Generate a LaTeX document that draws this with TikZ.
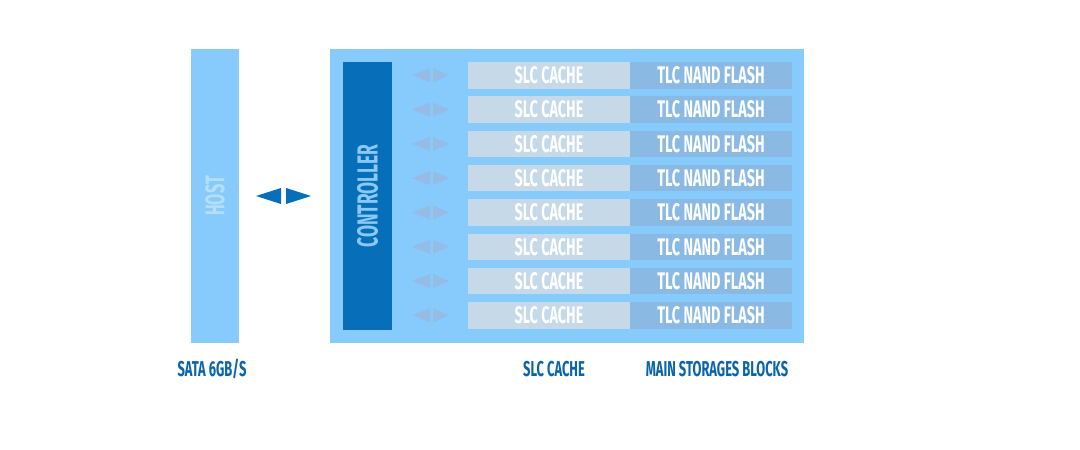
\documentclass[tikz,border=0pt]{standalone}
\usepackage{fontspec}
\newfontfamily\diagfont{Fira Sans}[FakeStretch=0.6]
\definecolor{boxblue}{RGB}{135,202,252}
\definecolor{ctrlblue}{RGB}{7,111,186}
\definecolor{ctrltext}{RGB}{140,200,245}
\definecolor{hosttext}{RGB}{182,222,250}
\definecolor{slcfill}{RGB}{197,217,232}
\definecolor{tlcfill}{RGB}{138,186,228}
\definecolor{smallarrow}{RGB}{148,188,228}
\definecolor{labelblue}{RGB}{10,100,170}
\tikzset{
    cell/.style={inner sep=0pt, minimum width=162pt, minimum height=26.5pt,
        text=white, font=\diagfont\bfseries\fontsize{24}{24}\selectfont},
    slc/.style={cell, fill=slcfill},
    tlc/.style={cell, fill=tlcfill},
    caption/.style={text=labelblue, inner sep=0pt, font=\diagfont\bfseries\fontsize{21.5}{21.5}\selectfont},
}
\begin{document}
\begin{tikzpicture}[x=1pt, y=-1pt]
    \useasboundingbox (0,0) rectangle (1080,450);

    % 主機與外框
    \node[fill=boxblue, inner sep=0pt, minimum width=48pt, minimum height=294pt] (host) at (215,196) {};
    \node[rotate=90, text=hosttext, font=\diagfont\bfseries\fontsize{27}{27}\selectfont] at (host) {HOST};
    \node[fill=boxblue, inner sep=0pt, minimum width=474pt, minimum height=294pt] (ssd) at (567,196) {};

    % 控制器
    \node[fill=ctrlblue, inner sep=0pt, minimum width=49pt, minimum height=268pt] (ctrl) at (367.5,196) {};
    \node[rotate=90, text=ctrltext, font=\diagfont\bfseries\fontsize{29}{29}\selectfont] at (ctrl) {CONTROLLER};

    % 主機與控制器之間的箭頭
    \fill[ctrlblue] (256,196) -- (281,188) -- (281,204) -- cycle;
    \fill[ctrlblue] (286,188) -- (286,204) -- (311,196) -- cycle;

    % 快取與快閃記憶體
    \foreach \i in {0,...,7} {
        \pgfmathsetmacro{\yc}{75.25+34.3*\i}
        \node[slc] (slc\i) at (549,\yc) {SLC CACHE};
        \node[tlc] (tlc\i) at (711,\yc) {TLC NAND FLASH};
        \fill[smallarrow] (412,\yc) -- (430,\yc-7) -- (430,\yc+7) -- cycle;
        \fill[smallarrow] (433,\yc-7) -- (433,\yc+7) -- (449,\yc) -- cycle;
    }

    % 下方標籤
    \node[caption] (sata) at (212,369) {SATA 6GB/S};
    \node[caption] (cache) at (554,369) {SLC CACHE};
    \node[caption] (main) at (717,369) {MAIN STORAGES BLOCKS};
\end{tikzpicture}
\end{document}
